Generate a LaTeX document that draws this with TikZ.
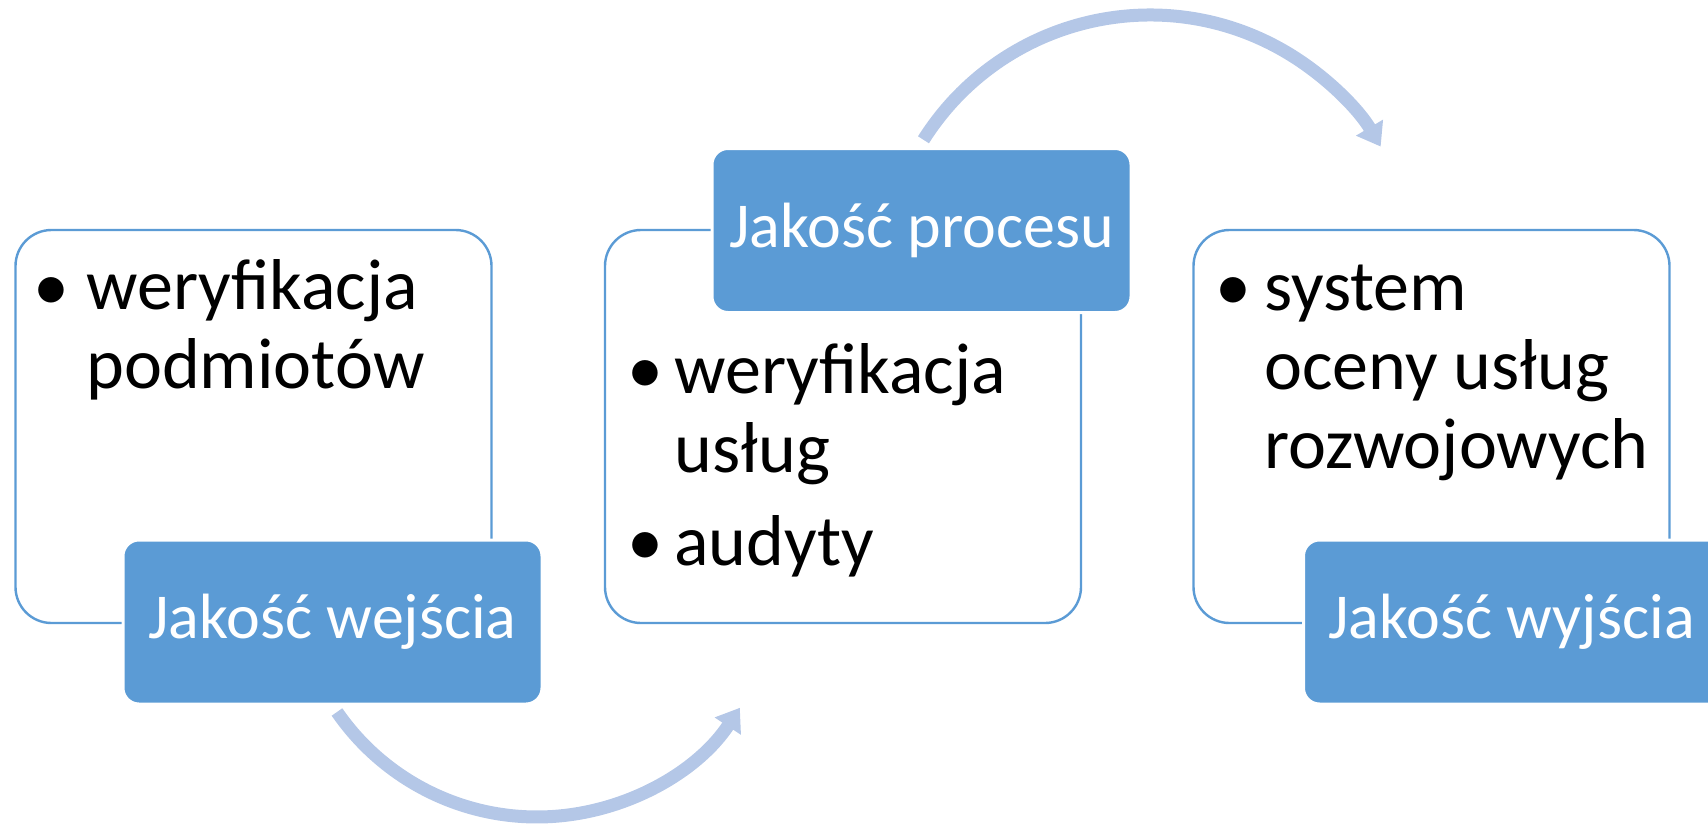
\documentclass[tikz,border=0pt]{standalone}
\usepackage{fontspec}
\setmainfont{Carlito}
\usetikzlibrary{arrows.meta}
\definecolor{boxblue}{HTML}{5B9BD5}
\definecolor{arcblue}{HTML}{B4C7E7}

\begin{document}
\begin{tikzpicture}[x=0.5pt, y=-0.5pt,
  panel/.style={draw=boxblue, line width=1.2pt, fill=white, rounded corners=18pt, inner sep=0pt, minimum width=238pt, minimum height=196.5pt},
  title/.style={fill=boxblue, draw=white, line width=1.5pt, rounded corners=8pt, text=white, font=\fontsize{32}{38}\selectfont, minimum width=209.5pt, minimum height=82pt, inner sep=0pt},
  item/.style={anchor=base west, inner sep=0pt, align=left, font=\fontsize{36}{39.5}\selectfont},
  dot/.style={anchor=base, inner sep=0pt, font=\fontsize{36}{39.5}\selectfont},
  flow/.style={draw=arcblue, line width=6.5pt, -{Triangle[width=15pt,length=11pt]}}]
	\clip (0,0) rectangle (1708,830);
	% white panels
	\node[panel] (in) at (253.5,426.5) {};
	\node[panel] (proc) at (843,426.5) {};
	\node[panel] (out) at (1431.5,426.5) {};
	% bullet texts (base = last line)
	\node[dot] (d1) at (51,310) {•};
	\node[item] (t1) at (86,388) {weryfikacja\\podmiotów};
	\node[dot] (d2) at (645,393) {•};
	\node[item] (t2) at (674,472) {weryfikacja\\usług};
	\node[dot] (d3) at (645,565) {•};
	\node[item] (t3) at (674,565) {audyty};
	\node[dot] (d4) at (1233,310) {•};
	\node[item] (t4) at (1264,468) {system\\oceny usług\\rozwojowych};
	% titles
	\node[title] (inT) at (332.5,622) {Jakość wejścia};
	\node[title] (procT) at (921.5,230.5) {Jakość procesu};
	\node[title, anchor=west, inner xsep=12.5pt] (outT) at (1302,622) {\makebox[200pt][l]{Jakość wyjścia}};
	% arcs
	\coordinate (hubA) at (537,574);
	\coordinate (hubB) at (1150,283);
	\draw[flow] ([shift={(214.6:121.5pt)}]hubA) arc[start angle=214.6, end angle=326.6, radius=121.5pt];
	\draw[flow] ([shift={(147.7:134pt)}]hubB) arc[start angle=147.7, end angle=30.6, radius=134pt];
\end{tikzpicture}
\end{document}
